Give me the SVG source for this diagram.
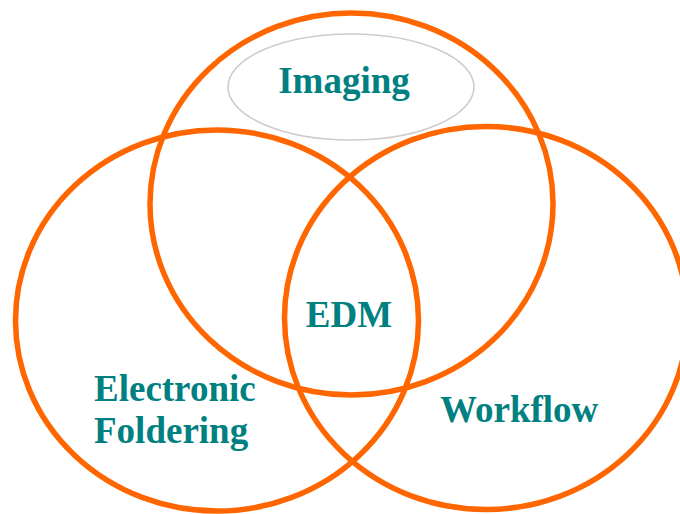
<svg xmlns="http://www.w3.org/2000/svg" width="680" height="514" viewBox="0 0 680 514">
  <style>
    .ring { fill: none; stroke: #FF6600; stroke-width: 5.5; }
    .halo { fill: none; stroke: #CCCCCC; stroke-width: 1.6; }
    .label { font-family: "Liberation Serif", "Times New Roman", serif; font-weight: bold; font-size: 37px; fill: #008080; }
  </style>
  <rect width="680" height="514" fill="#FFFFFF"/>

  <!-- Imaging: top circle with its highlight ellipse -->
  <g id="imaging">
    <ellipse class="ring" cx="351.5" cy="204" rx="201.5" ry="191"/>
    <ellipse class="halo" cx="351" cy="87" rx="123" ry="53"/>
    <text class="label" x="344" y="93" text-anchor="middle">Imaging</text>
  </g>

  <!-- Electronic Foldering: lower-left circle -->
  <g id="electronic-foldering">
    <ellipse class="ring" cx="217" cy="320.5" rx="201.5" ry="190.5"/>
    <text class="label" x="94" y="401">Electronic</text>
    <text class="label" x="94" y="443">Foldering</text>
  </g>

  <!-- Workflow: lower-right circle -->
  <g id="workflow">
    <ellipse class="ring" cx="486" cy="318" rx="201.5" ry="191.5"/>
    <text class="label" x="440" y="422">Workflow</text>
  </g>

  <!-- EDM: label at the common overlap -->
  <g id="edm">
    <text class="label" x="349" y="327" text-anchor="middle">EDM</text>
  </g>
</svg>
